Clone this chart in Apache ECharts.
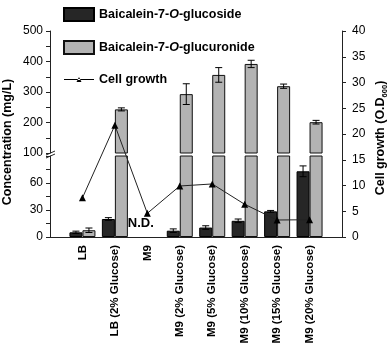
<!DOCTYPE html>
<html><head><meta charset="utf-8">
<script src="https://cdn.jsdelivr.net/npm/echarts@6/dist/echarts.min.js"></script>
<style>html,body{margin:0;padding:0;background:#fff}#c{width:392px;height:352px}</style>
</head><body><div id="c"></div>
<script>
const categories = ['LB','LB (2% Glucose)','M9','M9 (2% Glucose)','M9 (5% Glucose)','M9 (10% Glucose)','M9 (15% Glucose)','M9 (20% Glucose)'];
const glucoside = [5.2, 20, null, 7, 10.5, 18, 28.5, 73];
const glucosideErr = [1.3, 1.5, null, 2, 2, 2, 1, 6];
const glucuronide = [7.5, 243, null, 293, 356, 392, 319, 201];
const glucuronideErr = [2.5, 5, null, 34, 24, 12, 7, 6];
const cellGrowth = [7.6, 21.7, 4.6, 9.9, 10.3, 6.35, 3.3, 3.35];
const upperTicks = [100, 200, 300, 400, 500];
const lowerTicks = [0, 30, 60];
const rightTicks = [0, 5, 10, 15, 20, 25, 30, 35, 40];
const ndLabel = 'N.D.';

const FONT = '"Liberation Sans", Arial, sans-serif';
const xCats = [' '].concat(categories, ['  ']);
const pad = a => ['-'].concat(a.map(v => v == null ? '-' : v), ['-']);
const errData = (vals, errs) => vals.map((v, i) => v == null ? null : [i + 1, v, errs[i]]).filter(d => d);

const BW = 13;
function errRender(offset, minV, maxV) {
  return function (params, api) {
    const v = api.value(1), e = api.value(2);
    if (v < minV || v > maxV) return;
    const c = api.value(0);
    const t = api.coord([c, v + e]);
    const b = api.coord([c, v - e]);
    const x = t[0] + offset;
    const st = {stroke: '#000', lineWidth: 1};
    return {type: 'group', children: [
      {type: 'line', shape: {x1: x, y1: t[1], x2: x, y2: b[1]}, style: st},
      {type: 'line', shape: {x1: x - 3.5, y1: t[1], x2: x + 3.5, y2: t[1]}, style: st},
      {type: 'line', shape: {x1: x - 3.5, y1: b[1], x2: x + 3.5, y2: b[1]}, style: st}
    ]};
  };
}

const darkStyle = {color: '#262626', borderColor: '#000', borderWidth: 1};
const lightStyle = {color: '#b3b3b3', borderColor: '#111', borderWidth: 1};
const lineIcon = 'path://M0,0L0.01,0L0.01,0.01Z M0,6L30,6L30,7L0,7Z M12.5,9L17.5,9L15,4Z M29.99,12.99L30,12.99L30,13Z';

const option = {
  animation: false,
  textStyle: {fontFamily: FONT},
  legend: {
    orient: 'vertical', left: 58, top: 2, itemWidth: 30, itemHeight: 13, itemGap: 18,
    data: [
      {name: 'Baicalein-7-O-glucoside', icon: 'rect'},
      {name: 'Baicalein-7-O-glucuronide', icon: 'rect'},
      {name: 'Cell growth', icon: lineIcon}
    ],
    formatter: function (name) {
      if (name.indexOf('-O-') < 0) return '{b|' + name + '}';
      const p = name.split('-O-');
      return '{b|' + p[0] + '-}{i|O}{b|-' + p[1] + '}';
    },
    textStyle: {
      color: '#000',
      rich: {
        b: {fontWeight: 'bold', fontSize: 12.5, fontFamily: FONT, color: '#000', lineHeight: 13},
        i: {fontWeight: 'bold', fontStyle: 'italic', fontSize: 12.5, fontFamily: FONT, color: '#000', lineHeight: 13}
      }
    }
  },
  grid: [
    {left: 50, width: 292, top: 31, height: 122},
    {left: 50, width: 292, top: 156, height: 81},
    {left: 50, width: 292, top: 31, height: 206}
  ],
  xAxis: [
    {gridIndex: 0, type: 'category', data: xCats, boundaryGap: false, show: false},
    {gridIndex: 1, type: 'category', data: xCats, boundaryGap: false,
      axisLine: {lineStyle: {color: '#222', width: 1}}, axisTick: {show: false},
      axisLabel: {rotate: 90, interval: 0, margin: 8, color: '#000', fontWeight: 'bold', fontSize: 11.5, fontFamily: FONT}},
    {gridIndex: 2, type: 'category', data: xCats, boundaryGap: false, show: false}
  ],
  yAxis: [
    {gridIndex: 0, type: 'value', min: 100, max: 500, interval: 50,
      axisLine: {show: true, lineStyle: {color: '#222'}},
      axisTick: {show: true, length: 4, lineStyle: {color: '#222'}},
      splitLine: {show: false},
      axisLabel: {margin: 7, color: '#000', fontSize: 12, fontFamily: FONT,
        formatter: v => upperTicks.indexOf(v) >= 0 ? String(v) : ''}},
    {gridIndex: 1, type: 'value', min: 0, max: 90, interval: 15,
      axisLine: {show: true, lineStyle: {color: '#222'}},
      axisTick: {show: true, length: 4, lineStyle: {color: '#222'}},
      splitLine: {show: false},
      axisLabel: {margin: 7, color: '#000', fontSize: 12, fontFamily: FONT,
        formatter: v => lowerTicks.indexOf(v) >= 0 ? String(v) : ''}},
    {gridIndex: 2, type: 'value', position: 'right', min: 0, max: 40, interval: 5,
      axisLine: {show: true, lineStyle: {color: '#222'}},
      axisTick: {show: true, length: 4, lineStyle: {color: '#222'}},
      splitLine: {show: false},
      axisLabel: {margin: 10, color: '#000', fontSize: 12, fontFamily: FONT,
        formatter: v => rightTicks.indexOf(v) >= 0 ? String(v) : ''}}
  ],
  series: [
    {name: 'Baicalein-7-O-glucoside', type: 'bar', xAxisIndex: 0, yAxisIndex: 0, data: pad(glucoside), barWidth: BW, barGap: '0%', itemStyle: darkStyle, clip: true},
    {name: 'Baicalein-7-O-glucuronide', type: 'bar', xAxisIndex: 0, yAxisIndex: 0, data: pad(glucuronide), barWidth: BW, barGap: '0%', itemStyle: lightStyle, clip: true},
    {name: 'Baicalein-7-O-glucoside', type: 'bar', xAxisIndex: 1, yAxisIndex: 1, data: pad(glucoside), barWidth: BW, barGap: '0%', itemStyle: darkStyle, clip: true,
      markPoint: {symbol: 'rect', symbolSize: 1, itemStyle: {color: 'rgba(0,0,0,0)'},
        label: {show: true, position: 'inside', formatter: ndLabel, color: '#000', fontWeight: 'bold', fontSize: 13, fontFamily: FONT},
        data: [{coord: ['M9', 15.5]}]}},
    {name: 'Baicalein-7-O-glucuronide', type: 'bar', xAxisIndex: 1, yAxisIndex: 1, data: pad(glucuronide), barWidth: BW, barGap: '0%', itemStyle: lightStyle, clip: true},
    {type: 'custom', xAxisIndex: 1, yAxisIndex: 1, data: errData(glucoside, glucosideErr), renderItem: errRender(-BW / 2, 0, 90), z: 5, silent: true},
    {type: 'custom', xAxisIndex: 1, yAxisIndex: 1, data: errData(glucuronide, glucuronideErr), renderItem: errRender(BW / 2, 0, 90), z: 5, silent: true},
    {type: 'custom', xAxisIndex: 0, yAxisIndex: 0, data: errData(glucuronide, glucuronideErr), renderItem: errRender(BW / 2, 100, 500), z: 5, silent: true},
    {name: 'Cell growth', type: 'line', xAxisIndex: 2, yAxisIndex: 2, data: pad(cellGrowth), z: 10,
      symbol: 'triangle', symbolSize: 7, itemStyle: {color: '#000'}, lineStyle: {color: '#222', width: 1}}
  ],
  graphic: [
    {type: 'text', x: 8, y: 142, rotation: Math.PI / 2,
      style: {text: 'Concentration (mg/L)', fontSize: 12.5, fontWeight: 'bold', fontFamily: FONT, fill: '#000', align: 'center', verticalAlign: 'middle'}},
    {type: 'text', x: 381, y: 138, rotation: Math.PI / 2,
      style: {text: '{b|Cell growth (O.D}{s|600}{b|)}', fill: '#000', align: 'center', verticalAlign: 'middle',
        rich: {b: {fontSize: 12.5, fontWeight: 'bold', fontFamily: FONT, fill: '#000', lineHeight: 16, verticalAlign: 'middle'},
               s: {fontSize: 7.5, fontWeight: 'bold', fontFamily: FONT, fill: '#000', lineHeight: 16, verticalAlign: 'bottom', padding: [6, 0, 0, 0]}}}},
    {type: 'line', shape: {x1: 46, y1: 155, x2: 55, y2: 151}, style: {stroke: '#222', lineWidth: 1}},
    {type: 'line', shape: {x1: 46, y1: 158, x2: 55, y2: 154}, style: {stroke: '#222', lineWidth: 1}}
  ]
};
const chart = echarts.init(document.getElementById('c'), null, {renderer: 'canvas'});
chart.setOption(option);
</script></body></html>
